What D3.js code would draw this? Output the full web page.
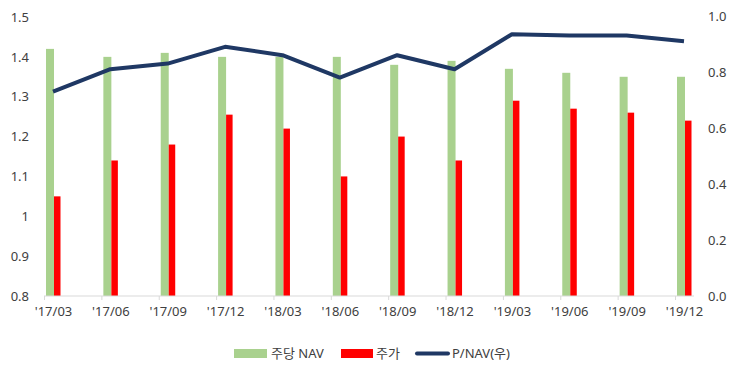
<!DOCTYPE html>
<html>
<head>
<meta charset="utf-8">
<script src="https://cdn.jsdelivr.net/npm/d3@7"></script>
<style>
  body { margin: 0; background: #fff; }
  text { font-family: "Noto Sans", "Noto Sans CJK KR", sans-serif; }
</style>
</head>
<body>
<svg id="chart"></svg>
<script>
const categories = ["'17/03", "'17/06", "'17/09", "'17/12", "'18/03", "'18/06", "'18/09", "'18/12", "'19/03", "'19/06", "'19/09", "'19/12"];
const navPerShare = [1.42, 1.40, 1.41, 1.40, 1.40, 1.40, 1.38, 1.39, 1.37, 1.36, 1.35, 1.35];
const sharePrice = [1.05, 1.14, 1.18, 1.255, 1.22, 1.10, 1.20, 1.14, 1.29, 1.27, 1.26, 1.24];
const pNav = [0.73, 0.81, 0.83, 0.89, 0.86, 0.78, 0.86, 0.81, 0.935, 0.93, 0.93, 0.91];
const leftTicks = [0.8, 0.9, 1, 1.1, 1.2, 1.3, 1.4, 1.5];
const rightTicks = [0, 0.2, 0.4, 0.6, 0.8, 1.0];

const width = 741, height = 377;
const svg = d3.select("#chart").attr("width", width).attr("height", height);

const x = d3.scalePoint().domain(categories).range([44, 675]);
const yL = d3.scaleLinear().domain([0.8, 1.5]).range([296, 17]);
const yR = d3.scaleLinear().domain([0, 1]).range([296, 16]);

const textColor = "#404040";

// bars
svg.selectAll(".nav")
  .data(navPerShare)
  .enter()
  .append("rect")
  .attr("x", (d, i) => x(categories[i]) + 2)
  .attr("y", d => yL(d))
  .attr("width", 8)
  .attr("height", d => yL(0.8) - yL(d))
  .attr("fill", "#a9d18e");

svg.selectAll(".price")
  .data(sharePrice)
  .enter()
  .append("rect")
  .attr("x", (d, i) => x(categories[i]) + 10)
  .attr("y", d => yL(d))
  .attr("width", 6.5)
  .attr("height", d => yL(0.8) - yL(d))
  .attr("fill", "#ff0000");

// x axis
const xAxis = svg.append("g")
  .attr("transform", "translate(0,296)")
  .call(d3.axisBottom(x).tickSize(4).tickSizeOuter(0));
xAxis.select(".domain").attr("d", "M44,0H694").attr("stroke", "#d9d9d9");
xAxis.selectAll(".tick line").attr("stroke", "#d9d9d9");
xAxis.selectAll("text")
  .attr("dx", 9)
  .attr("y", 11)
  .attr("fill", textColor)
  .attr("font-size", 13);

// left axis
const left = svg.append("g")
  .attr("transform", "translate(30,0)")
  .call(d3.axisLeft(yL).tickValues(leftTicks).tickFormat(d3.format("")).tickSize(0).tickPadding(1));
left.select(".domain").remove();
left.selectAll("text").attr("fill", textColor).attr("font-size", 13);

// right axis
const right = svg.append("g")
  .attr("transform", "translate(707,0)")
  .call(d3.axisRight(yR).tickValues(rightTicks).tickFormat(d3.format(".1f")).tickSize(0).tickPadding(1));
right.select(".domain").remove();
right.selectAll("text").attr("fill", textColor).attr("font-size", 13);

// line
const line = d3.line()
  .x((d, i) => x(categories[i]) + 9)
  .y(d => yR(d));
svg.append("path")
  .datum(pNav)
  .attr("fill", "none")
  .attr("stroke", "#1f3864")
  .attr("stroke-width", 4)
  .attr("stroke-linejoin", "round")
  .attr("d", line);

// legend
const legend = svg.append("g").attr("transform", "translate(0,353)");
legend.append("rect").attr("x", 234).attr("y", -4).attr("width", 33).attr("height", 9).attr("fill", "#a9d18e");
legend.append("text").attr("x", 271).attr("y", 5).attr("font-size", 13).attr("fill", textColor).text("주당 NAV");
legend.append("rect").attr("x", 341).attr("y", -4).attr("width", 32).attr("height", 9).attr("fill", "#ff0000");
legend.append("text").attr("x", 376).attr("y", 5).attr("font-size", 13).attr("fill", textColor).text("주가");
legend.append("line").attr("x1", 417).attr("x2", 448).attr("y1", 0.5).attr("y2", 0.5)
  .attr("stroke", "#1f3864").attr("stroke-width", 4).attr("stroke-linecap", "round");
legend.append("text").attr("x", 452).attr("y", 5).attr("font-size", 13).attr("fill", textColor).text("P/NAV(우)");
</script>
</body>
</html>
